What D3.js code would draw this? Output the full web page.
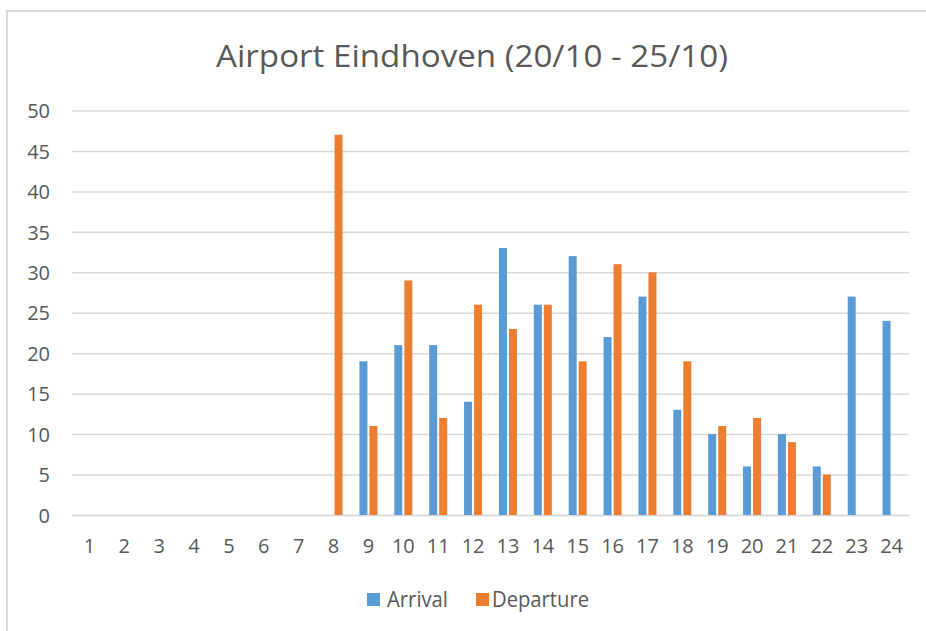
<!DOCTYPE html>
<html>
<head>
<meta charset="utf-8">
<script src="https://cdn.jsdelivr.net/npm/d3@7/dist/d3.min.js"></script>
<style>
  html, body { margin: 0; padding: 0; background: #fff; }
  svg { display: block; }
  text { font-family: "Open Sans", "Liberation Sans", sans-serif; fill: #595959; }
</style>
</head>
<body>
<svg id="chart" width="926" height="631"></svg>
<script>
const title = "Airport Eindhoven (20/10 - 25/10)";
const hours = ["1","2","3","4","5","6","7","8","9","10","11","12","13","14","15","16","17","18","19","20","21","22","23","24"];
const seriesNames = ["Arrival", "Departure"];
const arrival   = [0,0,0,0,0,0,0,0,19,21,21,14,33,26,32,22,27,13,10,6,10,6,27,24];
const departure = [0,0,0,0,0,0,0,47,11,29,12,26,23,26,19,31,30,19,11,12,9,5,0,0];
const yTicks = [0,5,10,15,20,25,30,35,40,45,50];
const colors = ["#5B9BD5", "#ED7D31"];

const svg = d3.select("#chart");
const W = 926, H = 631;
const plot = { left: 72, right: 909, top: 110.5, bottom: 515 };

// chart border
svg.append("rect")
  .attr("x", 7).attr("y", 11)
  .attr("width", W + 20).attr("height", H + 20)
  .attr("fill", "#fff")
  .attr("stroke", "#D9D9D9").attr("stroke-width", 2);

const x = d3.scaleBand().domain(hours).range([plot.left, plot.right]).paddingInner(0).paddingOuter(0);
const bw = x.bandwidth();
const xs = d3.scaleBand().domain(seriesNames).range([bw / 2 - 9, bw / 2 + 9]).paddingInner(0.2).paddingOuter(0);
const y = d3.scaleLinear().domain([0, 50]).range([plot.bottom, plot.top]);

// gridlines
const yAxis = d3.axisLeft(y).tickValues(yTicks).tickSize(-(plot.right - plot.left)).tickPadding(22);
const gy = svg.append("g").attr("transform", `translate(${plot.left},0)`).call(yAxis);
gy.select(".domain").remove();
gy.selectAll(".tick line").attr("stroke", "#D9D9D9").attr("stroke-width", 1.5);
gy.selectAll(".tick text")
  .style("font-size", "20px")
  .attr("fill", "#595959")
  .attr("dy", "0.36em");

// x axis
const xAxis = d3.axisBottom(x).tickSize(0).tickPadding(24);
const gx = svg.append("g").attr("transform", `translate(0,${plot.bottom})`).call(xAxis);
gx.select(".domain").attr("stroke", "#D9D9D9").attr("stroke-width", 1.5);
gx.selectAll(".tick text").style("font-size", "20px").attr("fill", "#595959");

// bars
const data = hours.map((h, i) => ({ h, vals: [arrival[i], departure[i]] }));
const groups = svg.append("g").selectAll("g").data(data).join("g")
  .attr("transform", d => `translate(${x(d.h)},0)`);
groups.selectAll("rect")
  .data(d => seriesNames.map((s, k) => ({ s, v: d.vals[k], k })).filter(e => e.v > 0))
  .join("rect")
  .attr("x", e => xs(e.s))
  .attr("width", xs.bandwidth())
  .attr("y", e => y(e.v))
  .attr("height", e => y(0) - y(e.v))
  .attr("fill", e => colors[e.k]);

// title
svg.append("text")
  .attr("x", 216).attr("y", 67)
  .attr("textLength", 512).attr("lengthAdjust", "spacingAndGlyphs")
  .style("font-size", "31px")
  .text(title);

// legend
const legendItems = [
  { name: seriesNames[0], color: colors[0], sx: 367, tx: 387, tw: 61 },
  { name: seriesNames[1], color: colors[1], sx: 476, tx: 492, tw: 97 }
];
const lg = svg.append("g");
legendItems.forEach(it => {
  lg.append("rect").attr("x", it.sx).attr("y", 593).attr("width", 13).attr("height", 13).attr("fill", it.color);
  lg.append("text").attr("x", it.tx).attr("y", 606.5)
    .attr("textLength", it.tw).attr("lengthAdjust", "spacingAndGlyphs")
    .style("font-size", "21px").text(it.name);
});
</script>
</body>
</html>
